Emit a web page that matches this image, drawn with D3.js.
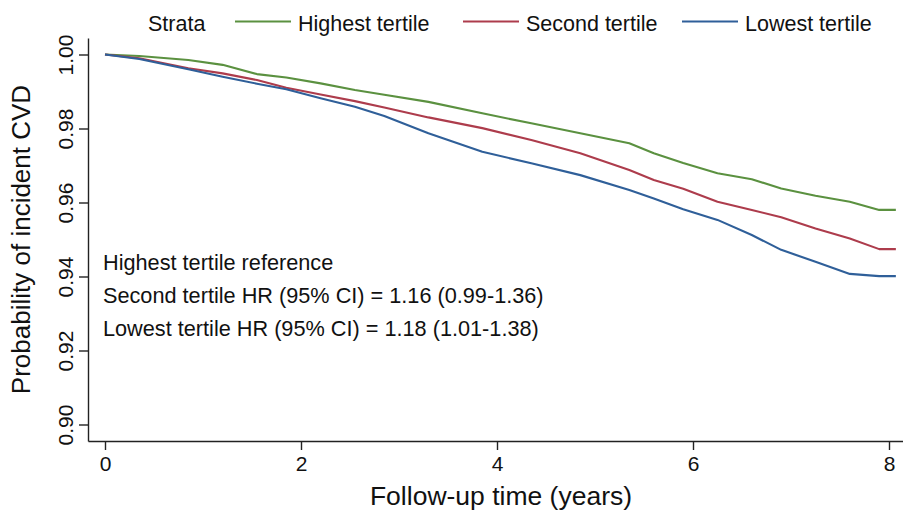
<!DOCTYPE html>
<html>
<head>
<meta charset="utf-8">
<script src="https://cdn.jsdelivr.net/npm/d3@7"></script>
<style>
  body { margin: 0; background: #fff; }
  text { font-family: "Liberation Sans", Arial, Helvetica, sans-serif; fill: #111; }
  .tick text { font-family: "Liberation Sans Narrow", "Arial Narrow", "Liberation Sans", sans-serif; }
</style>
</head>
<body>
<div id="chart"></div>
<script>
// follow-up time (years) at which the curves were read
const times = [0, 0.35, 0.85, 1.2, 1.55, 1.85, 2.2, 2.55, 2.85, 3.3, 3.85, 4.35, 4.85, 5.35, 5.6, 5.9, 6.25, 6.6, 6.9, 7.25, 7.6, 7.9, 8.07];

// survival probability per strata
const highest = [1.000, 0.9996, 0.9985, 0.9972, 0.9947, 0.9938, 0.9922, 0.9904, 0.9891, 0.9872, 0.9841, 0.9814, 0.9787, 0.9760, 0.9733, 0.9707, 0.9679, 0.9663, 0.9638, 0.9618, 0.9602, 0.9580, 0.9580];
const second  = [1.000, 0.9990, 0.9963, 0.9949, 0.9931, 0.9910, 0.9892, 0.9874, 0.9857, 0.9830, 0.9801, 0.9769, 0.9733, 0.9688, 0.9661, 0.9637, 0.9602, 0.9580, 0.9560, 0.9530, 0.9503, 0.9474, 0.9474];
const lowest  = [1.000, 0.9988, 0.9960, 0.9940, 0.9921, 0.9906, 0.9882, 0.9859, 0.9834, 0.9787, 0.9737, 0.9706, 0.9674, 0.9634, 0.9611, 0.9582, 0.9553, 0.9512, 0.9472, 0.9440, 0.9407, 0.9401, 0.9401];

const strata = ["Highest tertile", "Second tertile", "Lowest tertile"];
const strataColors = ["#5b9140", "#ad3c4c", "#2f5f99"];
const xTicks = [0, 2, 4, 6, 8];
const yTicks = [0.90, 0.92, 0.94, 0.96, 0.98, 1.00];
const notes = [
  "Highest tertile reference",
  "Second tertile HR (95% CI) = 1.16 (0.99-1.36)",
  "Lowest tertile HR (95% CI) = 1.18 (1.01-1.38)"
];

const width = 903, height = 510;
const legendX = [235, 463, 682]; // left edge of each legend key

const x = d3.scaleLinear().domain([0, 8]).range([105, 889]);
const y = d3.scaleLinear().domain([0.90, 1.00]).range([424.5, 54.5]);

// axis scales stretched to the full panel edges
const xAxisScale = x.copy().domain([x.invert(88), x.invert(903)]).range([88, 903]);
const yAxisScale = y.copy().domain([y.invert(441), y.invert(38)]).range([441, 38]);

const svg = d3.select("#chart").append("svg")
  .attr("width", width)
  .attr("height", height);

// x axis
const gx = svg.append("g")
  .attr("transform", "translate(0,441)")
  .call(d3.axisBottom(xAxisScale).tickValues(xTicks).tickFormat(d3.format("d")).tickSize(9).tickSizeOuter(0).tickPadding(6));
gx.selectAll("text").style("font-size", "21px");

// y axis
const gy = svg.append("g")
  .attr("transform", "translate(88,0)")
  .call(d3.axisLeft(yAxisScale).tickValues(yTicks).tickFormat(d3.format(".2f")).tickSize(9).tickSizeOuter(0));
gy.selectAll(".tick text")
  .attr("x", null).attr("dy", null)
  .attr("text-anchor", "middle")
  .attr("transform", "translate(-15,0) rotate(-90)")
  .style("font-size", "21px");

svg.selectAll(".domain, .tick line")
  .attr("stroke", "#222")
  .attr("stroke-width", 1.4);

// axis titles
svg.append("text")
  .attr("x", 501)
  .attr("y", 505)
  .attr("text-anchor", "middle")
  .style("font-size", "26.5px")
  .text("Follow-up time (years)");

svg.append("text")
  .attr("transform", "translate(30," + (38 + 441) / 2 + ") rotate(-90)")
  .attr("text-anchor", "middle")
  .style("font-size", "26px")
  .text("Probability of incident CVD");

// survival curves
const series = [highest, second, lowest];
const line = d3.line()
  .x((d, i) => x(times[i]))
  .y(d => y(d));

svg.append("g")
  .selectAll("path")
  .data(series)
  .enter()
  .append("path")
  .attr("fill", "none")
  .attr("stroke", (d, i) => strataColors[i])
  .attr("stroke-width", 2.1)
  .attr("stroke-linejoin", "round")
  .attr("d", line);

// legend
const legend = svg.append("g");
legend.append("text")
  .attr("x", 148).attr("y", 31)
  .style("font-size", "21.5px")
  .text("Strata");

strata.forEach((s, i) => {
  legend.append("line")
    .attr("x1", legendX[i]).attr("x2", legendX[i] + 56)
    .attr("y1", 21.5).attr("y2", 21.5)
    .attr("stroke", strataColors[i])
    .attr("stroke-width", 2);
  legend.append("text")
    .attr("x", legendX[i] + 63).attr("y", 31)
    .style("font-size", "21.5px")
    .text(s);
});

// hazard ratio notes
svg.append("g")
  .selectAll("text")
  .data(notes)
  .enter()
  .append("text")
  .attr("x", 103)
  .attr("y", (d, i) => 270 + i * 33)
  .style("font-size", "21.7px")
  .text(d => d);
</script>
</body>
</html>
